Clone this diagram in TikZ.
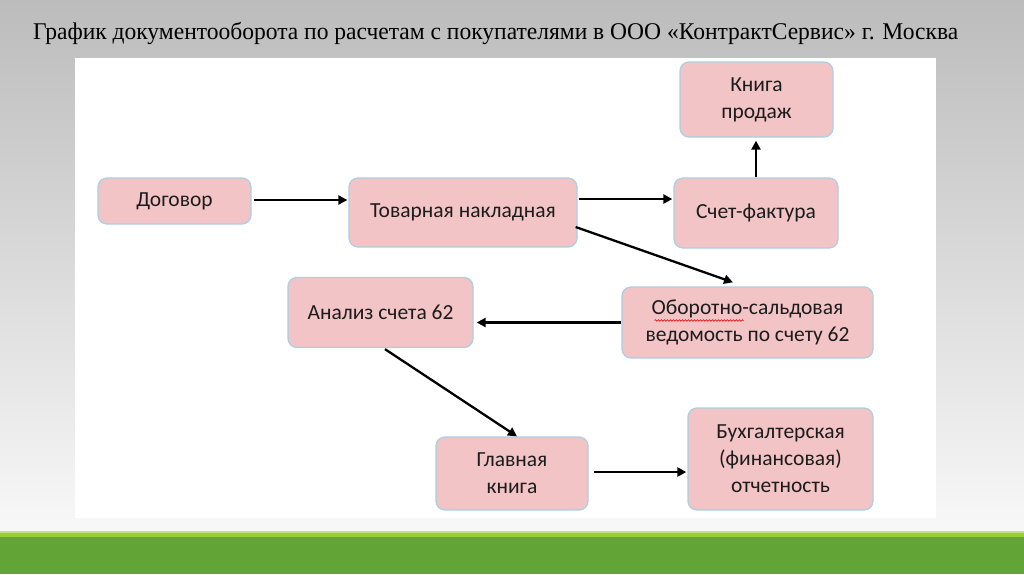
\documentclass[tikz,border=0pt]{standalone}
\usepackage{fontspec}
\setmainfont{Carlito}
\newfontfamily\titlefont{Liberation Serif}
\usepackage{graphicx}
\usetikzlibrary{calc,positioning,arrows.meta,decorations.pathmorphing}
\definecolor{boxfill}{RGB}{243,196,197}
\definecolor{boxline}{RGB}{172,208,226}
\definecolor{bgtop}{RGB}{188,188,188}
\definecolor{bgbottom}{RGB}{248,248,248}
\definecolor{greenlight}{RGB}{157,203,60}
\definecolor{greendark}{RGB}{99,164,55}
\definecolor{textdark}{RGB}{28,28,28}
\tikzstyle{flowchart}=[
  x=1pt,y=-1pt,>={Triangle[length=9pt,width=9pt]},font=\fontsize{21.5}{27}\selectfont
]
\tikzstyle{docbox}=[
  draw=boxline,line width=1.3pt,fill=boxfill,rounded corners=9pt,align=center,text=textdark,inner sep=0pt
]
\tikzstyle{flow}=[
  ->,line width=2.3pt,black
]
\tikzstyle{spellmark}=[
  red!85!black,line width=0.6pt,decorate,decoration={snake,amplitude=0.8pt,segment length=3pt}
]

\begin{document}
\begin{tikzpicture}[flowchart]
  \useasboundingbox (0,0) rectangle (1024,574);
  % background and panel
  \shade [top color=bgtop,bottom color=bgbottom] (0,0) rectangle (1024,532);
  \fill [white] (75,58) rectangle (936,518);
  \fill [greenlight!60!white] (0,531) rectangle (1024,533);
  \fill [greenlight] (0,533) rectangle (1024,537);
  \fill [greendark] (0,537) rectangle (1024,574);
  \node (title) at (33,39) [anchor=base west,inner sep=0pt] {\resizebox{925pt}{\height}{\titlefont\fontsize{24}{28}\selectfont График документооборота по расчетам с покупателями в ООО «КонтрактСервис» г. Москва}};
  % documents
  \node (kniga) at (756.5,99.5) [docbox,minimum width=153pt,minimum height=75pt] {Книга\\продаж};
  \node (dogovor) at (174.5,201) [docbox,minimum width=153pt,minimum height=46pt] {Договор};
  \node (nakl) at (463,212.5) [docbox,minimum width=228pt,minimum height=69pt] {Товарная накладная};
  \node (faktura) at (756,213) [docbox,minimum width=164pt,minimum height=70pt] {Счет-фактура};
  \node (analiz) at (380.5,312.5) [docbox,minimum width=185pt,minimum height=70pt] {Анализ счета 62};
  \node (osv) at (747.5,322.5) [docbox,minimum width=251pt,minimum height=71pt] {Оборотно-сальдовая\\ведомость по счету 62};
  \node (glavn) at (512,473.5) [docbox,minimum width=152pt,minimum height=73pt] {Главная\\книга};
  \node (otchet) at (780.5,459) [docbox,minimum width=185pt,minimum height=102pt] {Бухгалтерская\\(финансовая)\\отчетность};
  \draw [spellmark] ($(osv.center)+(-93,-2)$) -- ($(osv.center)+(-4,-2)$);
  % connectors
  \draw [flow] ($(dogovor.east)+(2,-1)$) -- ($(nakl.west |- dogovor.east)+(-1,-1)$);
  \draw [flow] ($(nakl.east)+(1,-13.5)$) -- ($(faktura.west)+(-1,-14)$);
  \draw [flow] (faktura.north) -- ($(kniga.south -| faktura.north)+(0,3)$);
  \draw [flow] ($(nakl.east)+(-2,14.5)$) -- ($(osv.north)+(-14.5,-4)$);
  \draw [flow] (osv.west) -- ($(analiz.east |- osv.west)+(3,0)$);
  \draw [flow] ($(analiz.south)+(4.5,1)$) -- ($(glavn.north)+(5,0)$);
  \draw [flow] ($(glavn.east)+(5,-1.5)$) -- ($(otchet.west |- glavn.east)+(-1,-1.5)$);
\end{tikzpicture}
\end{document}
